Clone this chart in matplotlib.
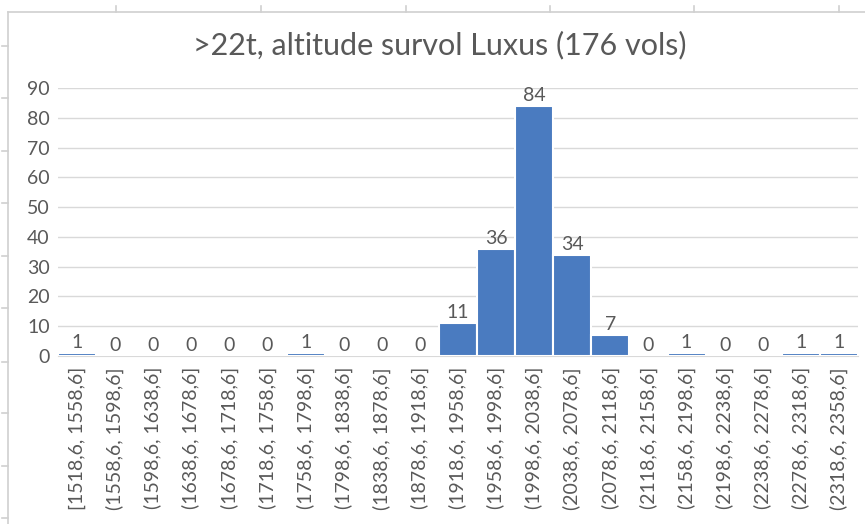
import matplotlib
matplotlib.use("Agg")
import matplotlib.pyplot as plt
from matplotlib.lines import Line2D

categories = ["[1518,6, 1558,6]", "(1558,6, 1598,6]", "(1598,6, 1638,6]", "(1638,6, 1678,6]",
              "(1678,6, 1718,6]", "(1718,6, 1758,6]", "(1758,6, 1798,6]", "(1798,6, 1838,6]",
              "(1838,6, 1878,6]", "(1878,6, 1918,6]", "(1918,6, 1958,6]", "(1958,6, 1998,6]",
              "(1998,6, 2038,6]", "(2038,6, 2078,6]", "(2078,6, 2118,6]", "(2118,6, 2158,6]",
              "(2158,6, 2198,6]", "(2198,6, 2238,6]", "(2238,6, 2278,6]", "(2278,6, 2318,6]",
              "(2318,6, 2358,6]"]
counts = [1, 0, 0, 0, 0, 0, 1, 0, 0, 0, 11, 36, 84, 34, 7, 0, 1, 0, 0, 1, 1]
yticks = [0, 10, 20, 30, 40, 50, 60, 70, 80, 90]
title = ">22t, altitude survol Luxus (176 vols)"

plt.rcParams['font.family'] = ['Lato', 'DejaVu Sans']
txt = '#595959'
bg_line = '#d0d0d0'

fig = plt.figure(figsize=(8.65, 5.24), dpi=100)
W, H = 865, 524

def fline(xs, ys):
    fig.add_artist(Line2D([v / W for v in xs], [1 - v / H for v in ys],
                          color=bg_line, lw=1.2, transform=fig.transFigure))

# spreadsheet background: chart border (top/left) and cell ticks
fline([8, 8], [12, 524])
fline([8, 865], [12, 12])
for xp in [116, 261, 406, 550, 694, 839]:
    fline([xp, xp], [6, 12])
for yp in [46, 98, 151, 203, 256, 308, 362, 413, 466, 518]:
    fline([2, 8], [yp, yp])

ax = fig.add_axes([58 / W, 1 - 356 / H, 800 / W, 268 / H])
n = len(counts)
x = list(range(n))
ax.bar(x, counts, width=1.0, color='#4A7BC0', edgecolor='white', linewidth=1.5, zorder=3)
for xi, v in zip(x, counts):
    ax.text(xi, v + 0.6, str(v), ha='center', va='bottom', fontsize=14, color=txt, zorder=4)

ax.set_xlim(-0.5, n - 0.5)
ax.set_ylim(0, 90)
ax.set_yticks(yticks)
ax.set_yticklabels([str(t) for t in yticks], fontsize=14, color=txt)
ax.set_xticks(x)
ax.set_xticklabels(categories, rotation=90, fontsize=14, color=txt, va='top')
ax.tick_params(axis='both', length=0, pad=6)
ax.tick_params(axis='x', pad=8)
ax.grid(axis='y', color='#d9d9d9', lw=1, zorder=0)
for s in ['top', 'right', 'left']:
    ax.spines[s].set_visible(False)
ax.spines['bottom'].set_color('#d9d9d9')
ax.set_title(title, fontsize=22, color=txt, pad=24, x=(440 - 58) / 800)

fig.savefig('out.png', dpi=100)
